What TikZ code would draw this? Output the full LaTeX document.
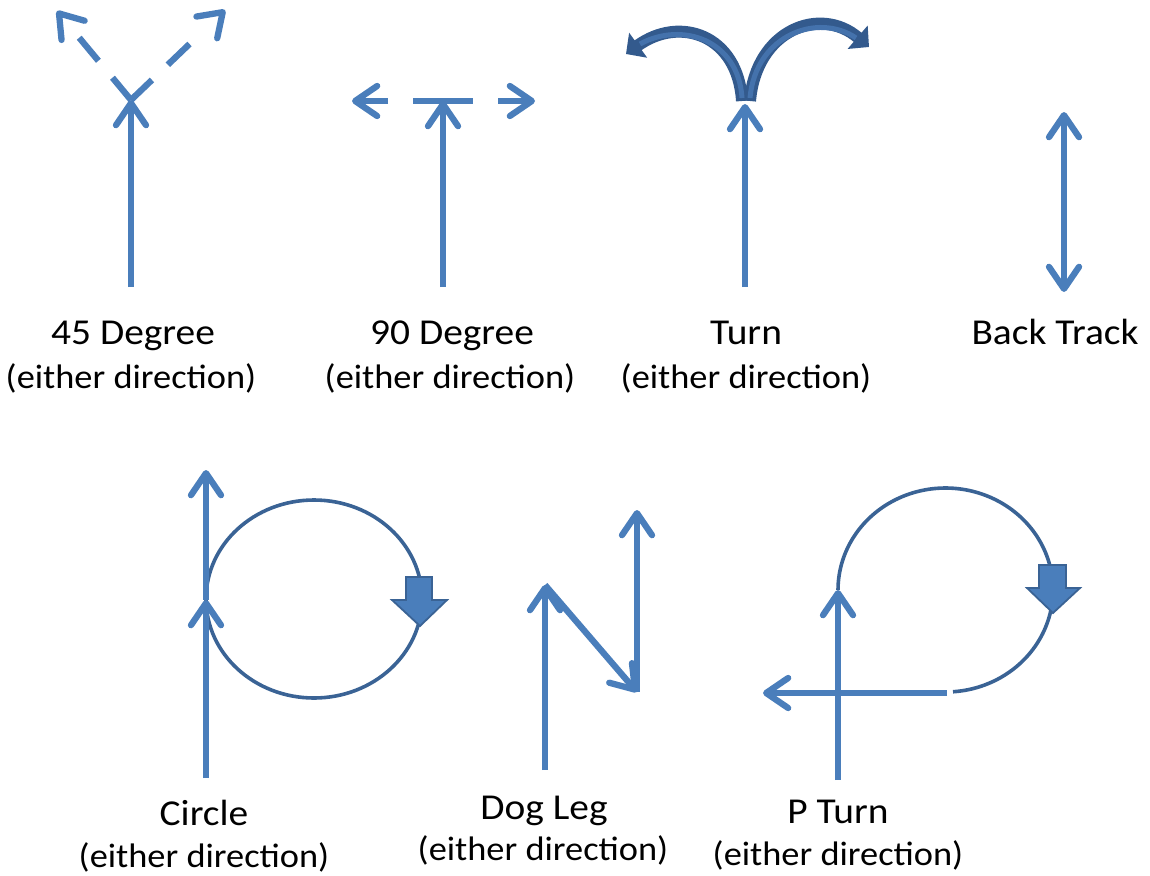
\documentclass[tikz,border=0pt]{standalone}
\usepackage{fontspec}
\setmainfont{Carlito}
\usetikzlibrary{arrows.meta}
\definecolor{lb}{HTML}{4A7EBB}
\definecolor{db}{HTML}{3A6395}
\definecolor{tb}{HTML}{4472AC}
\definecolor{tbd}{HTML}{335A8D}
\newcommand{\ttltext}[1]{\scalebox{1.08}[1]{#1}}
\newcommand{\subtext}[1]{\scalebox{1.07}[1]{#1}}
\begin{document}
\begin{tikzpicture}[x=1pt,y=-1pt,
  ar/.style={draw=lb, line width=6.3pt, -{Straight Barb[length=22pt,width=30pt,round]}},
  dar/.style={ar, line cap=butt},
  ring/.style={draw=db, line width=3.6pt},
  blockhead/.style={fill=lb, draw=db, line width=1.8pt, line join=miter},
  turnar/.style={draw=tbd, line width=12pt, -{Triangle[length=15pt,width=30pt]}},
  turnin/.style={draw=tb, line width=5pt},
  ttl/.style={font=\fontsize{36.5}{40}\selectfont, anchor=base, inner sep=0pt},
  sub/.style={font=\fontsize{34}{38}\selectfont, anchor=base, inner sep=0pt}
]
\useasboundingbox (0,0) rectangle (1150,875);

% ---------- 45 Degree ----------
\coordinate (a0) at (131,287);
\coordinate (a1) at (131,100);
\coordinate (aL) at (57,11);
\coordinate (aR) at (225,10);
\draw[ar] (a0) -- (a1);
\draw[dar, dash pattern=on 29pt off 22pt on 30pt off 300pt] (a1) -- (aL);
\draw[dar, dash pattern=on 29pt off 22pt on 30pt off 300pt] (a1) -- (aR);
\node[ttl] (t45) at (133,344) {\ttltext{45 Degree}};
\node[sub] (s45) at (131,388) {\subtext{(either direction)}};

% ---------- 90 Degree ----------
\coordinate (b0) at (443,287);
\coordinate (b1) at (443,101);
\coordinate (bL) at (352,101);
\coordinate (bR) at (535,101);
\draw[ar] (b0) -- (b1);
\draw[dar, dash pattern=on 30pt off 25pt on 300pt] (b1) -- (bL);
\draw[dar, dash pattern=on 30pt off 25pt on 300pt] (b1) -- (bR);
\node[ttl] (t90) at (452,344) {\ttltext{90 Degree}};
\node[sub] (s90) at (450,388) {\subtext{(either direction)}};

% ---------- Turn ----------
\coordinate (c0) at (745,287);
\coordinate (c1) at (745,104);
\coordinate (cj1) at (742,101);
\coordinate (cj2) at (750,101);
\coordinate (cL) at (626,54);
\coordinate (cR) at (869,47);
\draw[turnar] (cj1) .. controls (738,35) and (680,15) .. (cL);
\draw[turnar] (cj2) .. controls (756,30) and (820,5) .. (cR);
\draw[turnin] (742,98) .. controls (738.5,40) and (682,21) .. (640,44);
\draw[turnin] (750,98) .. controls (755.5,35) and (818,12) .. (856,38);
\draw[ar] (c0) -- (c1);
\node[ttl] (tT) at (746,344) {\ttltext{Turn}};
\node[sub] (sT) at (746,388) {\subtext{(either direction)}};

% ---------- Back Track ----------
\coordinate (d0) at (1064,112);
\coordinate (d1) at (1064,292);
\draw[ar, {Straight Barb[length=22pt,width=30pt,round]}-{Straight Barb[length=22pt,width=30pt,round]}] (d0) -- (d1);
\node[ttl] (tB) at (1055,344) {\ttltext{Back Track}};

% ---------- Circle ----------
\coordinate (e0) at (206,778);
\coordinate (e1) at (206,600);
\coordinate (e2) at (206,470);
\coordinate (ec) at (314,599);
\draw[ring] (ec) ellipse [x radius=108, y radius=99];
\draw[blockhead] (406,577) -- (432,577) -- (432,600) -- (447,600) -- (420,626) -- (392,600) -- (406,600) -- cycle;
\draw[ar] (e0) -- (e1);
\draw[ar] (e1) -- (e2);
\node[ttl] (tC) at (204,825) {\ttltext{Circle}};
\node[sub] (sC) at (204,867) {\subtext{(either direction)}};

% ---------- Dog Leg ----------
\coordinate (f0) at (545,770);
\coordinate (f1) at (545,585);
\coordinate (f2) at (637,692);
\coordinate (f3) at (637,510);
\draw[ar] (f0) -- (f1);
\draw[ar] (f1) -- (f2);
\draw[ar] (f2) -- (f3);
\node[ttl] (tD) at (544,819) {\ttltext{Dog Leg}};
\node[sub] (sD) at (543,860) {\subtext{(either direction)}};

% ---------- P Turn ----------
\coordinate (g0) at (838,780);
\coordinate (g1) at (838,590);
\coordinate (g2) at (947,693);
\coordinate (g3) at (763,693);
\draw[ring] plot[domain=180:446, samples=80, smooth] ({945.5+107.5*cos(\x)},{590+102*sin(\x)});
\draw[blockhead] (1039,565) -- (1066,565) -- (1066,588) -- (1080,588) -- (1053,613) -- (1027,588) -- (1039,588) -- cycle;
\draw[ar] (g2) -- (g3);
\draw[ar] (g0) -- (g1);
\node[ttl] (tP) at (838,823) {\ttltext{P Turn}};
\node[sub] (sP) at (838,865) {\subtext{(either direction)}};
\end{tikzpicture}
\end{document}
